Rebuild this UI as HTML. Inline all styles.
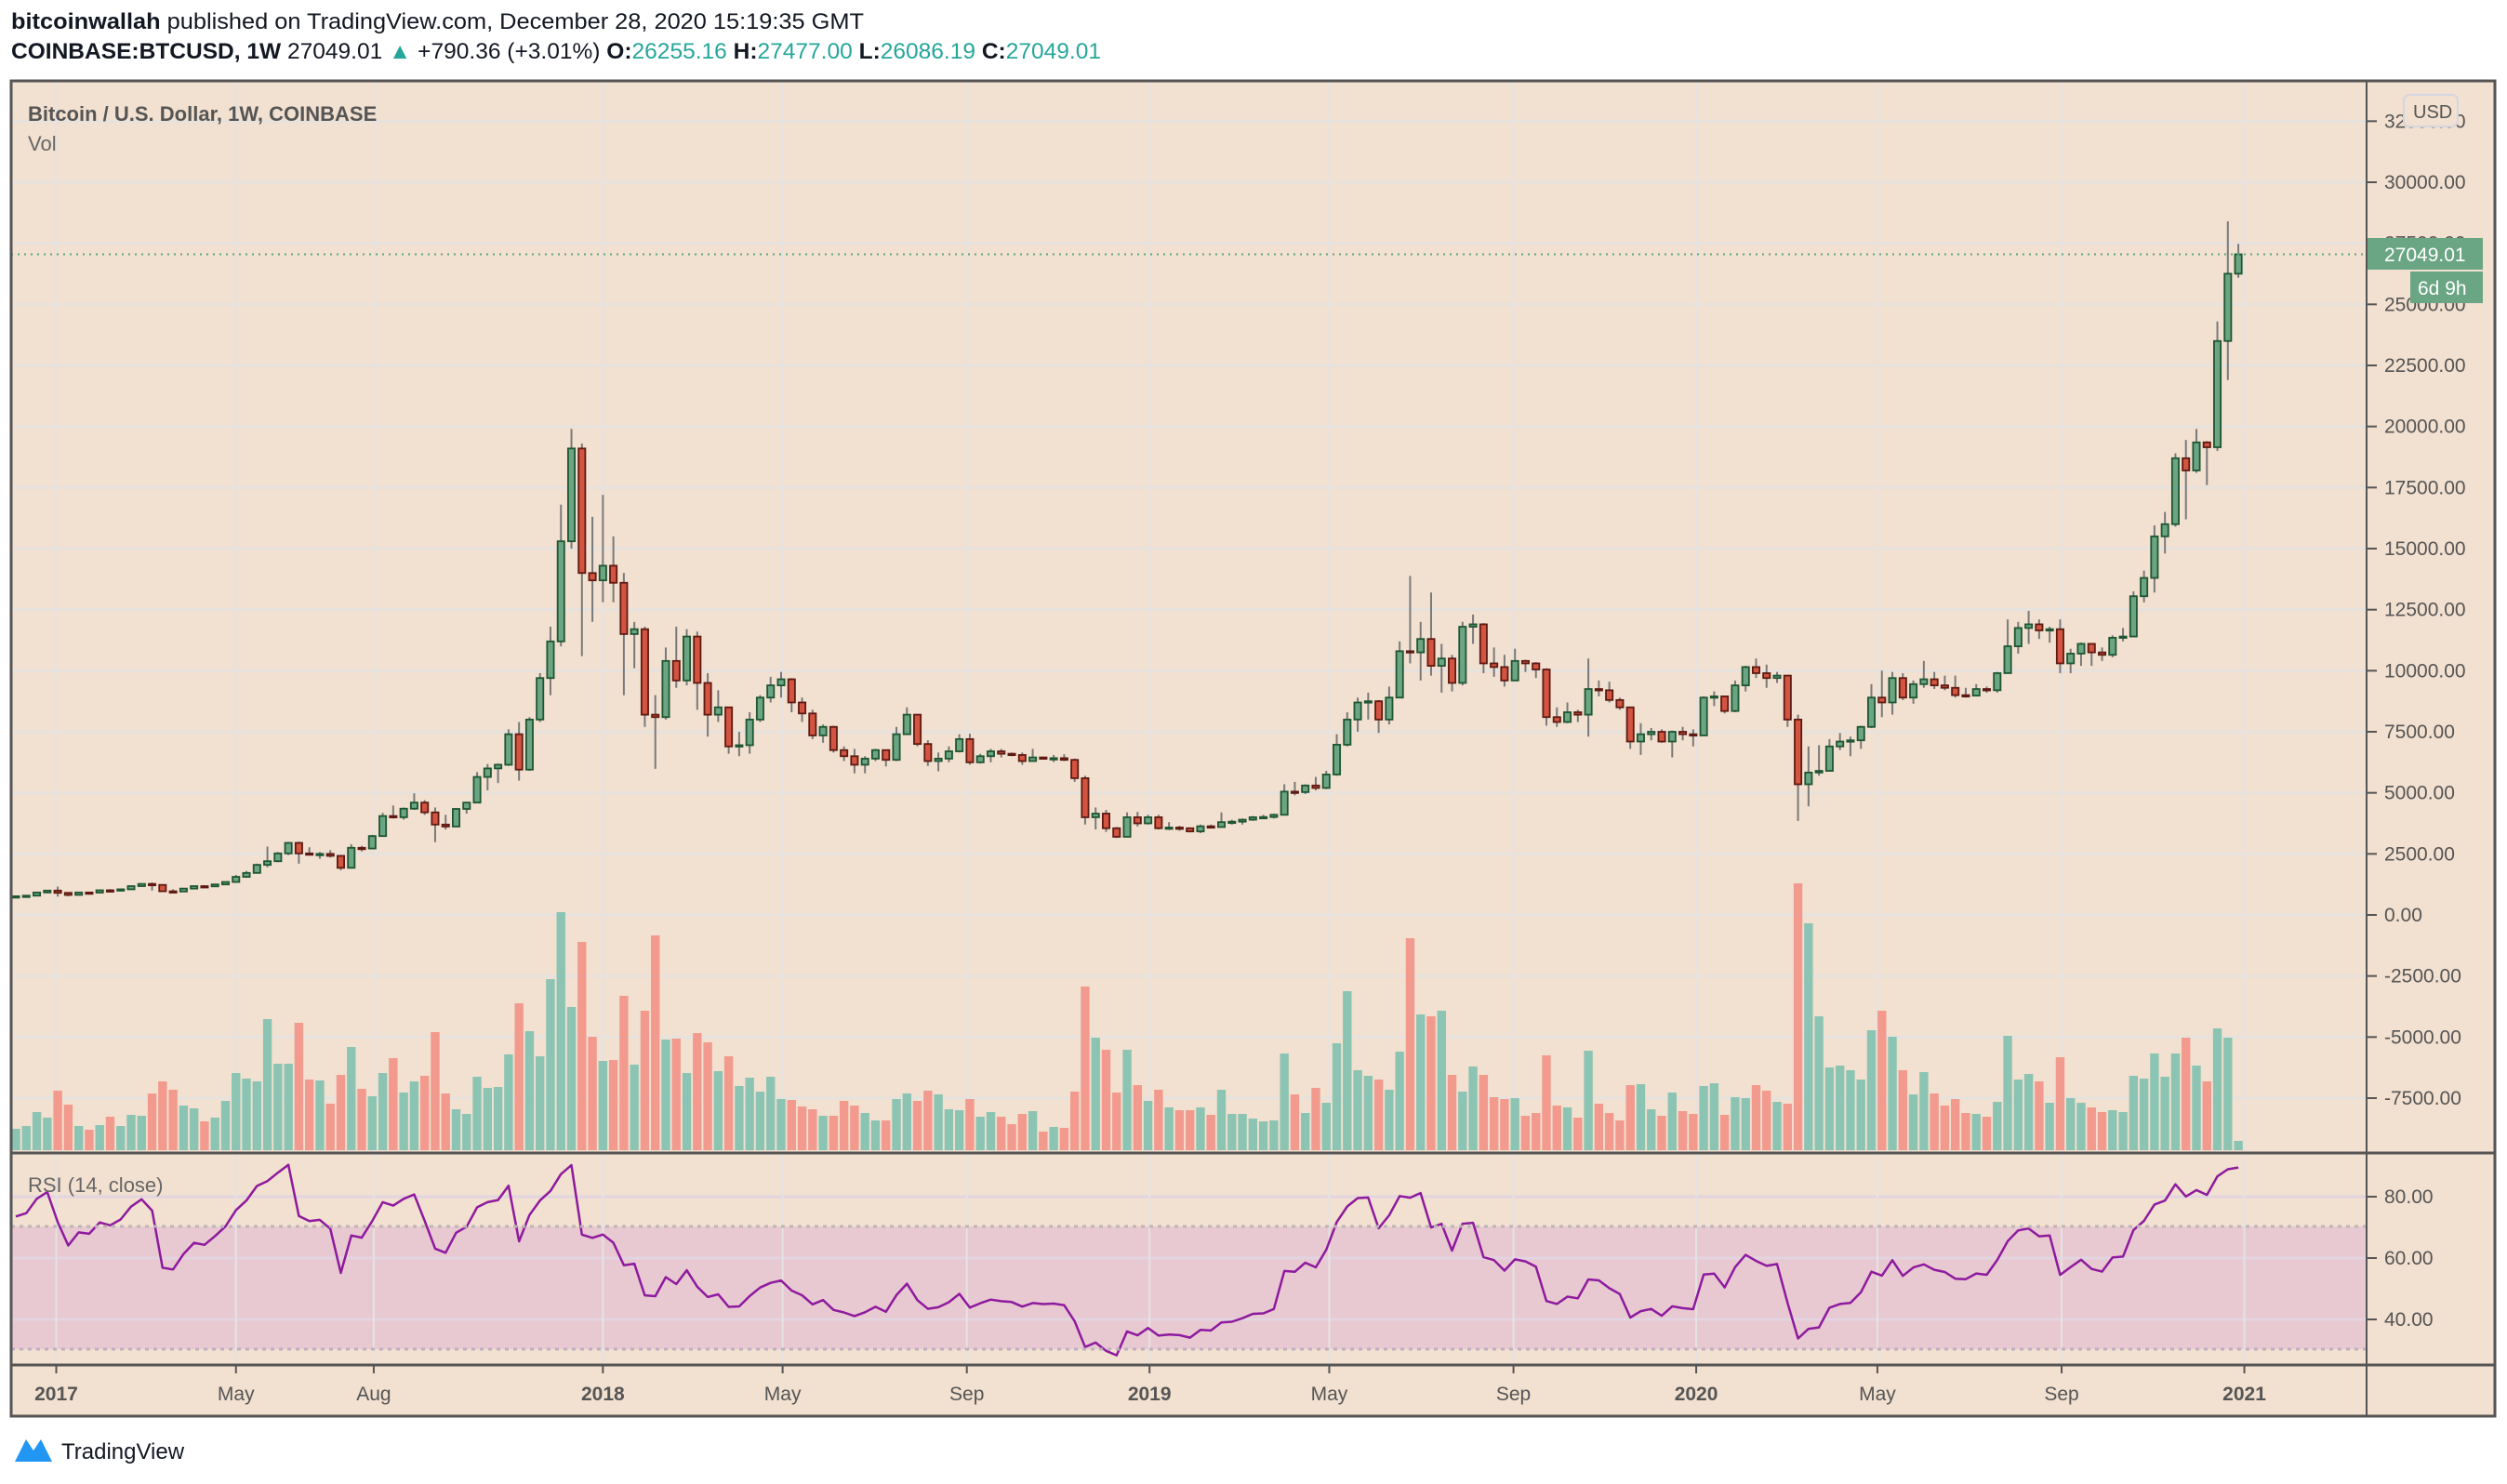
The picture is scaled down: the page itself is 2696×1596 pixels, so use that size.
<!DOCTYPE html>
<html><head><meta charset="utf-8"><style>
html,body{margin:0;padding:0;background:#fff;}
svg{display:block;font-family:"Liberation Sans",sans-serif;}
</style></head><body>
<svg id="chart" width="2696" height="1596" viewBox="0 0 2696 1596">
<rect x="0" y="0" width="2696" height="1596" fill="#ffffff"/>
<text x="12" y="31" font-size="24" fill="#131722" textLength="917" lengthAdjust="spacingAndGlyphs"><tspan font-weight="bold">bitcoinwallah</tspan> published on TradingView.com, December 28, 2020 15:19:35 GMT</text>
<text x="12" y="63" font-size="24" fill="#131722" textLength="1172" lengthAdjust="spacingAndGlyphs"><tspan font-weight="bold">COINBASE:BTCUSD, 1W</tspan> 27049.01 <tspan fill="#26a69a">▲</tspan> +790.36 (+3.01%) <tspan font-weight="bold">O:</tspan><tspan fill="#26a69a">26255.16</tspan> <tspan font-weight="bold">H:</tspan><tspan fill="#26a69a">27477.00</tspan> <tspan font-weight="bold">L:</tspan><tspan fill="#26a69a">26086.19</tspan> <tspan font-weight="bold">C:</tspan><tspan fill="#26a69a">27049.01</tspan></text>
<rect x="12" y="87" width="2671" height="1436" fill="#f2e0d0"/>
<rect x="12" y="1319" width="2533" height="132" fill="#e8c9d2"/>
<g id="grid"></g>
<g id="vol"></g>
<g id="candles"></g>
<g id="rsi"></g>
<g id="axes"></g>
<line x1="12" y1="273.5" x2="2545" y2="273.5" stroke="#5aa77a" stroke-width="2" stroke-dasharray="2,5"/>
<line x1="12" y1="1319" x2="2545" y2="1319" stroke="#bcb5b5" stroke-width="3" stroke-dasharray="4,5"/>
<line x1="12" y1="1451" x2="2545" y2="1451" stroke="#bcb0c0" stroke-width="3" stroke-dasharray="4,5"/>
<text x="30" y="130" font-size="22" font-weight="bold" fill="#555">Bitcoin / U.S. Dollar, 1W, COINBASE</text>
<text x="30" y="162" font-size="22" fill="#666">Vol</text>
<text x="30" y="1282" font-size="22" fill="#666">RSI (14, close)</text>
<line x1="2545" y1="87" x2="2545" y2="1523" stroke="#555" stroke-width="2"/>
<line x1="12" y1="1240" x2="2683" y2="1240" stroke="#555" stroke-width="3"/>
<line x1="12" y1="1468" x2="2683" y2="1468" stroke="#555" stroke-width="3"/>
<rect x="12" y="87" width="2671" height="1436" fill="none" stroke="#555" stroke-width="3"/>
<rect x="2546" y="256" width="124" height="34" fill="#6aa584"/>
<text x="2564" y="281" font-size="21" fill="#fff">27049.01</text>
<rect x="2592" y="292" width="78" height="34" fill="#6aa584"/>
<text x="2600" y="317" font-size="21" fill="#fff">6d 9h</text>
<rect x="2585" y="102" width="58" height="34" rx="6" fill="#f2e0d0" stroke="#d4d6e0" stroke-width="2"/>
<text x="2595" y="127" font-size="20" fill="#555">USD</text>
<g>
<path d="M16 1572 L28 1548 L36 1560 L44 1548 L56 1572 Z" fill="#2196f3"/>
<text x="66" y="1569" font-size="24" fill="#131722">TradingView</text>
</g>
</svg>
<script>
const closes=[765,790,920,998,
905,820,920,915,1010,1000,1050,1180,1270,1230,970,960,1080,1180,1170,1250,1350,1560,1720,2050,2200,2520,2950,2520,2470,2500,2420,1930,2750,2720,3230,4050,4000,4350,4600,4200,3700,3620,4340,4600,5650,6000,6150,7400,5950,8000,9700,11200,15300,19100,14000,13700,
14300,13600,11500,11700,8200,8100,10400,9600,11400,9500,8200,8500,6900,6950,8000,8900,9400,9650,8700,8250,7350,7700,6750,6500,6150,6400,6750,6350,7400,8200,7000,6300,6400,6700,7200,6250,6500,6700,6600,6550,6300,6450,6400,6420,6350,5600,4000,4150,3550,3200,4000,3750,4000,
3550,3580,3550,3420,3630,3600,3800,3820,3900,4000,4010,4100,5050,5030,5300,5200,5750,6970,8000,8700,8750,8000,8900,10800,10750,11300,10200,10500,9500,11800,11900,10300,10150,9600,10400,10300,10050,8100,7900,8300,8200,9250,9200,8800,8500,7100,7400,7500,7100,7500,7400,7350,
8900,8950,8350,9400,10150,9900,9700,9800,8000,5350,5830,5900,6900,7100,7150,7700,8900,8700,9700,8900,9450,9650,9400,9300,9000,8980,9250,9200,9900,11000,11750,11900,11650,11700,10300,10700,11100,10750,10650,11350,11400,13050,13800,15500,16000,18700,18200,19350,19150,23500,26255.16,27049.01];
const highs=[780,800,930,1000,
1160,910,930,925,1020,1060,1060,1200,1290,1330,1250,1050,1100,1200,1220,1260,1360,1640,1800,2100,2800,2580,2990,3000,2770,2580,2650,2420,2900,2830,3280,4180,4480,4400,4980,4700,4400,4100,4380,4620,5850,6180,6200,7600,7900,8100,9900,11800,16800,19900,19300,16300,
17200,15500,14000,12000,11800,9000,10950,11800,11700,11600,9900,9200,8500,7500,8300,9000,9750,9950,9700,8900,8400,7800,7750,6900,6800,6500,6800,6700,7700,8500,8200,7150,6650,6900,7400,7420,6600,6800,6800,6650,6650,6800,6480,6550,6580,6400,5700,4400,4300,3600,4200,4220,4100,
4100,3800,3650,3500,3700,3700,4200,3900,3950,4050,4100,4150,5350,5450,5350,5650,5900,7400,8300,8900,9100,8800,9350,11200,13880,12000,13200,11100,10650,12000,12300,11950,10950,10650,10900,10450,10350,10100,8500,8700,8400,10500,9600,9550,8900,8500,7850,7650,7600,7550,7700,7600,
8950,9150,8950,9600,10200,10500,10250,9950,9800,8200,6900,6950,7200,7450,7300,7750,9450,10000,9950,9900,9600,10400,9950,9800,9800,9300,9450,9350,9950,12100,12000,12450,12100,11800,12100,10900,11150,11000,10950,11450,11750,13250,14100,15950,16500,18900,19450,19900,19400,24300,28400,27477];
const lows=[740,760,790,890,
750,760,815,880,910,920,990,1040,1170,1000,950,890,940,1050,1150,1150,1230,1340,1530,1720,1950,2160,2450,2100,2440,2300,2350,1830,1900,2600,2690,3200,3950,3900,4300,4100,2980,3500,3600,4150,4580,5100,5400,6100,5500,5900,7900,9000,11000,15000,10600,12000,
12800,12800,9000,10100,7700,5980,8000,9300,9400,8400,7300,7900,6600,6500,6600,7900,8700,8900,8300,7900,7200,7050,6650,6300,5800,5800,6300,6080,6300,7400,6900,6100,5880,6250,6650,6150,6200,6250,6450,6500,6150,6350,6380,6260,6300,5450,3700,3500,3400,3150,3220,3620,3700,
3500,3480,3450,3380,3350,3550,3600,3700,3700,3850,3950,3950,4100,4900,4950,5100,5150,5700,6900,7500,8000,7450,7800,8950,10300,9600,9800,9100,9150,9400,11100,9900,9750,9350,9600,9950,9700,7750,7700,7850,7900,7300,8950,8700,8400,6800,6550,7150,7050,6450,7150,6900,
7350,8550,8250,8300,9150,9700,9300,9500,7700,3850,4450,5700,5900,6750,6500,6800,7650,8100,8200,8800,8650,9300,9250,9200,8900,8900,8970,9100,9100,9900,10700,11100,11300,11150,9900,9900,10200,10200,10400,10550,11200,11400,12800,13200,14800,15900,16200,18100,17600,19000,21900,26086.19];
const volumes=[23,26,41,35,64,49,26,22,27,36,26,38,37,61,74,65,48,45,31,35,53,83,77,74,141,93,93,137,76,75,50,81,111,66,58,83,99,62,74,80,127,61,44,39,79,67,68,103,158,128,101,184,256,154,224,122,96,97,166,92,150,231,119,120,83,126,116,85,101,69,78,63,79,55,54,47,44,37,37,53,48,40,32,32,55,61,53,64,60,44,43,55,36,41,36,28,39,42,20,25,24,63,176,121,108,62,108,70,53,65,46,43,
43,46,38,65,39,39,34,31,32,104,60,40,67,51,115,171,86,80,76,65,106,228,146,144,150,81,63,90,81,57,55,56,37,40,102,48,46,35,107,50,40,32,70,71,44,37,62,42,39,69,72,38,57,56,70,64,52,50,287,244,144,89,91,86,76,129,150,122,86,60,84,61,48,55,40,39,36,52,123,76,82,74,51,100,56,51,46,41,43,41,80,77,104,79,104,121,91,74,131,121,10];
const firstOpen=750;
const priceTicks=[32500,30000,27500,25000,22500,20000,17500,15000,12500,10000,7500,5000,2500,0,-2500,-5000,-7500];
const rsiTicks=[80,60,40];
const timeLabels=['2017','May','Aug','2018','May','Sep','2019','May','Sep','2020','May','Sep','2021'];
const timeDates=['2017-01-01','2017-05-01','2017-08-01','2018-01-01','2018-05-01','2018-09-01','2019-01-01','2019-05-01','2019-09-01','2020-01-01','2020-05-01','2020-09-01','2021-01-01'];

const NS='http://www.w3.org/2000/svg';
const startMs=Date.UTC(2016,11,5);
function xIdx(i){return 17+i*11.274;}
function xDate(s){return xIdx((Date.parse(s+'T00:00:00Z')-startMs)/(7*86400000));}
function yP(p){return 984-p*788/30000;}
function yV(v){return 1237-v;}
function yR(r){return 1287+(80-r)*3.3;}
function mk(parent,tag,attrs){const e=document.createElementNS(NS,tag);for(const k in attrs)e.setAttribute(k,attrs[k]);parent.appendChild(e);return e;}

const grid=document.getElementById('grid');
const axes=document.getElementById('axes');
priceTicks.forEach(p=>{
  const y=yP(p);
  const g=mk(grid,'line',{x1:12,x2:2545,y1:y,y2:y,stroke:'#e6e2de','stroke-width':3});
  
  
  const t=mk(axes,'line',{x1:2546,x2:2556,y1:y,y2:y,stroke:'#555','stroke-width':2});
  
  
  const l=mk(axes,'text',{x:2564,y:y+7,'font-size':21,fill:'#555'});
  l.textContent=p.toFixed(2);
  
  
});
rsiTicks.forEach(r=>{
  const y=yR(r);
  const g=mk(grid,'line',{x1:12,x2:2545,y1:y,y2:y,stroke:'#e2d4e0','stroke-width':3});
  
  
  const t=mk(axes,'line',{x1:2546,x2:2556,y1:y,y2:y,stroke:'#555','stroke-width':2});
  
  
  const l=mk(axes,'text',{x:2564,y:y+7,'font-size':21,fill:'#555'});
  l.textContent=r.toFixed(2);
  
  
});
timeLabels.forEach((lab,k)=>{
  const x=xDate(timeDates[k]);
  const g=mk(grid,'line',{x1:x,x2:x,y1:88,y2:1467,stroke:'#e6e2e2','stroke-width':2});
  
  
  const t=mk(axes,'line',{x1:x,x2:x,y1:1469,y2:1477,stroke:'#555','stroke-width':2});
  
  
  const isYear=/^\d/.test(lab);
  const l=mk(axes,'text',{x:x,y:1506,'font-size':21,fill:'#555','text-anchor':'middle','font-weight':isYear?'bold':'normal'});
  l.textContent=lab;
  
  
});

const vol=document.getElementById('vol');
const cg=document.getElementById('candles');
for(let i=0;i<closes.length;i++){
  const o=i===0?firstOpen:closes[i-1];
  const c=closes[i];
  const up=c>=o;
  const x=xIdx(i);
  const vb=mk(vol,'rect',{x:x-4.7,y:yV(volumes[i]),width:9.4,height:volumes[i],fill:up?'#8cc4b3':'#f29a8d'});
  
  
  const w=mk(cg,'line',{x1:x,x2:x,y1:yP(highs[i]),y2:yP(lows[i]),stroke:'#7a7a7a','stroke-width':2});
  
  
  const top=yP(Math.max(o,c)),bot=yP(Math.min(o,c));
  const b=mk(cg,'rect',{x:x-3.6,y:top,width:7.2,height:Math.max(bot-top,1.5),fill:up?'#6ba583':'#d35440',stroke:up?'#1e5632':'#5e1a12','stroke-width':1.8});
  
  
}

// RSI (Wilder, 14) from closes
const rg=document.getElementById('rsi');
let ag=35,al=13,pts=[];
for(let i=0;i<closes.length;i++){
  const prev=i===0?firstOpen:closes[i-1];
  const d=closes[i]-prev;
  ag=(ag*13+Math.max(d,0))/14;
  al=(al*13+Math.max(-d,0))/14;
  const r=al===0?100:100-100/(1+ag/al);
  pts.push(xIdx(i).toFixed(1)+','+yR(r).toFixed(1));
}
const rl=mk(rg,'polyline',{points:pts.join(' '),fill:'none',stroke:'#8e1a9e','stroke-width':2.5,'stroke-linejoin':'round'});


</script>
</body></html>
